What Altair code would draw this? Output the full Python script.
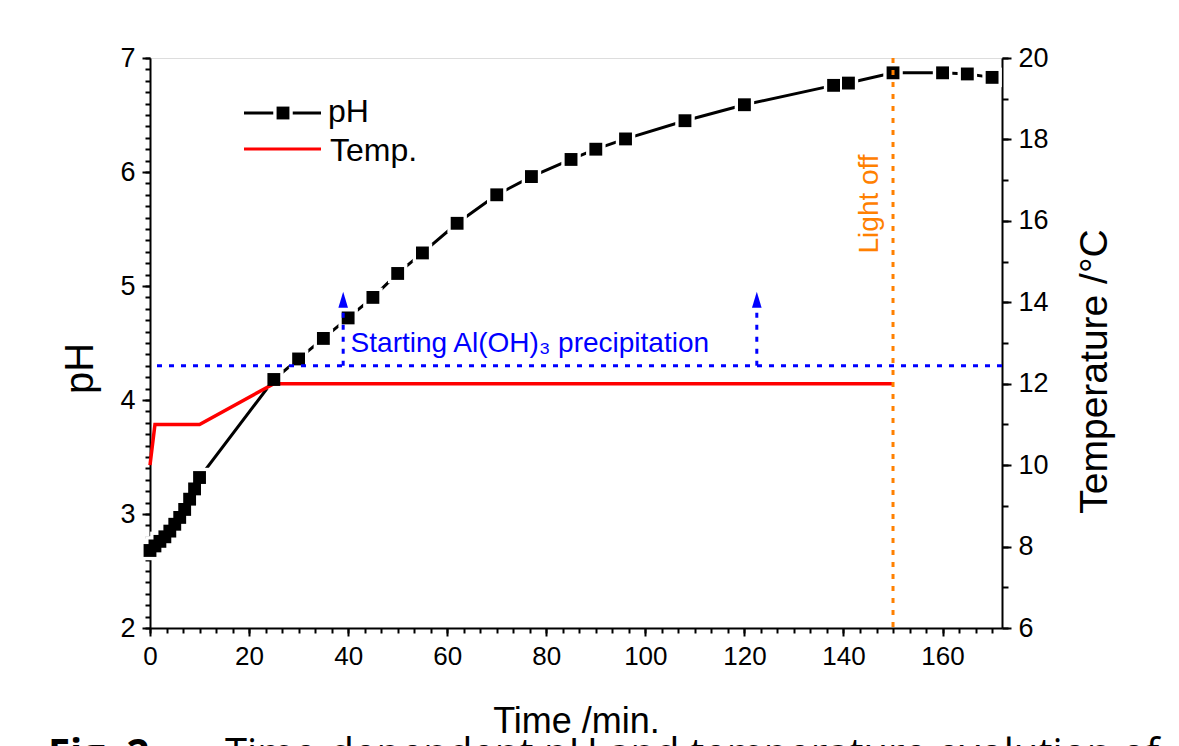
import altair as alt
import pandas as pd

# ---------------- data ----------------
time_ph = [0, 1, 2, 3, 4, 5, 6, 7, 8, 9, 10, 25, 30, 35, 40, 45, 50, 55, 62, 70,
           77, 85, 90, 96, 108, 120, 138, 141, 150, 160, 165, 170]
ph_vals = [2.68, 2.72, 2.76, 2.80, 2.85, 2.91, 2.97, 3.04, 3.13, 3.22, 3.32, 4.18,
           4.36, 4.54, 4.72, 4.90, 5.11, 5.29, 5.55, 5.80, 5.96, 6.11, 6.20, 6.29,
           6.45, 6.59, 6.76, 6.78, 6.87, 6.87, 6.86, 6.83]
time_temp = [0, 1, 10, 25, 150]
temp_vals = [10, 11, 11, 12, 12]

precip_ph = [4.3]
arrow_times = [39, 122.5]
arrow_top = [4.81, 4.81]
arrow_head = [4.88, 4.88]
light_off_time = [150]

x_ticks = [0, 20, 40, 60, 80, 100, 120, 140, 160]
ph_ticks = [2, 3, 4, 5, 6, 7]
temp_ticks = [6, 8, 10, 12, 14, 16, 18, 20]

FONT = "Liberation Sans"

df_ph = pd.DataFrame({"t": time_ph, "ph": ph_vals})
df_temp = pd.DataFrame({"t": time_temp, "temp": temp_vals})
df_hline = pd.DataFrame({"v": precip_ph})
df_arrow = pd.DataFrame({"t": arrow_times, "y0": [precip_ph[0]] * 2, "y1": arrow_top, "yh": arrow_head})
df_light = pd.DataFrame({"t": light_off_time})
one = pd.DataFrame({"a": [0]})

xs = alt.Scale(domain=[0, 172], nice=False, zero=False)
phs = alt.Scale(domain=[2, 7], nice=False, zero=False)
ts = alt.Scale(domain=[6, 20], nice=False, zero=False)

x_minor = [round(i * 20 / 6, 4) for i in range(0, 52)]
ph_minor = [round(2 + i * 0.1, 2) for i in range(0, 51)]
temp_minor = list(range(6, 21))

common = dict(grid=False, domainColor="black", domainWidth=2, tickColor="black",
              labelColor="black", titleColor="black", labelFont=FONT, titleFont=FONT,
              titleFontWeight="normal", labelOverlap=False, labelFlush=False)

x_major_axis = alt.Axis(orient="bottom", values=x_ticks, tickSize=8, tickWidth=2, labelFontSize=26,
                        labelPadding=7, title="Time /min.",
                        titleFontSize=36, titleY=104, titleBaseline="alphabetic", **common)
x_minor_axis = alt.Axis(orient="bottom", values=x_minor, tickSize=5, tickWidth=2, labels=False,
                        domain=False, title=None, grid=False, tickColor="black")

ph_major_axis = alt.Axis(orient="left", values=ph_ticks, tickSize=8, tickWidth=2, labelFontSize=27,
                         labelPadding=7, title="pH", titleFontSize=40, titleX=-70, titleY=310,
                         titleBaseline="middle", titleAngle=270, **common)
ph_minor_axis = alt.Axis(orient="left", values=ph_minor, tickSize=5, tickWidth=2, labels=False,
                         domain=False, title=None, grid=False, tickColor="black")

t_major_axis = alt.Axis(orient="right", values=temp_ticks, tickSize=9, tickWidth=2, labelFontSize=27,
                        labelPadding=7, title="Temperature /°C", titleFontSize=39, titleX=92,
                        titleY=313, titleBaseline="middle", titleAngle=270, **common)
t_minor_axis = alt.Axis(orient="right", values=temp_minor, tickSize=6, tickWidth=2, labels=False,
                        domain=False, title=None, grid=False, tickColor="black")

# ---------------- layers ----------------
ph_line = alt.Chart(df_ph).mark_line(color="black", strokeWidth=3).encode(
    x=alt.X("t:Q", scale=xs, axis=x_major_axis),
    y=alt.Y("ph:Q", scale=phs, axis=ph_major_axis),
)
ph_minor_layer = alt.Chart(df_ph).mark_point(opacity=0).encode(
    x=alt.X("t:Q", scale=xs, axis=x_minor_axis),
    y=alt.Y("ph:Q", scale=phs, axis=ph_minor_axis),
)
ph_halo = alt.Chart(df_ph).mark_square(color="white", size=380, opacity=1).encode(
    x=alt.X("t:Q", scale=xs, axis=None),
    y=alt.Y("ph:Q", scale=phs, axis=None),
)
temp_line = alt.Chart(df_temp).mark_line(color="#FF0000", strokeWidth=3.5).encode(
    x=alt.X("t:Q", scale=xs, axis=None),
    y=alt.Y("temp:Q", scale=ts, axis=t_major_axis),
)
temp_minor_layer = alt.Chart(df_temp).mark_point(opacity=0).encode(
    x=alt.X("t:Q", scale=xs, axis=None),
    y=alt.Y("temp:Q", scale=ts, axis=t_minor_axis),
)
ph_sq = alt.Chart(df_ph).mark_square(color="black", size=165, opacity=1).encode(
    x=alt.X("t:Q", scale=xs, axis=None),
    y=alt.Y("ph:Q", scale=phs, axis=None),
)
hline = alt.Chart(df_hline).mark_rule(color="#0000FF", strokeWidth=3, strokeDash=[5, 7]).encode(
    y=alt.Y("v:Q", scale=phs, axis=None),
)
arrow_stem = alt.Chart(df_arrow).mark_rule(color="#0000FF", strokeWidth=3, strokeDash=[5, 7]).encode(
    x=alt.X("t:Q", scale=xs, axis=None),
    y=alt.Y("y0:Q", scale=phs, axis=None),
    y2="y1:Q",
)
arrow_tip = alt.Chart(df_arrow).mark_point(
    shape="M0,-1L0.6,1L-0.6,1Z", filled=True, size=256, color="#0000FF", opacity=1
).encode(
    x=alt.X("t:Q", scale=xs, axis=None),
    y=alt.Y("yh:Q", scale=phs, axis=None),
)
precip_text = alt.Chart(one).mark_text(
    text="Starting Al(OH)₃ precipitation", color="#0000FF", font=FONT, fontSize=28,
    align="left", baseline="alphabetic"
).encode(
    x=alt.datum(40.5, scale=xs, axis=None),
    y=alt.datum(4.42, scale=phs, axis=None),
)
light_rule = alt.Chart(df_light).mark_rule(color="#FF8000", strokeWidth=3, strokeDash=[5, 7]).encode(
    x=alt.X("t:Q", scale=xs, axis=None),
)
light_text = alt.Chart(one).mark_text(
    text="Light off", color="#FF8000", font=FONT, fontSize=28, angle=270,
    align="center", baseline="middle"
).encode(
    x=alt.datum(145.3, scale=xs, axis=None),
    y=alt.datum(5.72, scale=phs, axis=None),
)

# ---------------- legend (decoration) ----------------
leg_ph_line = alt.Chart(one).mark_rule(color="black", strokeWidth=3).encode(
    x=alt.value(94), x2=alt.value(171), y=alt.value(55))
leg_ph_halo = alt.Chart(one).mark_square(color="white", size=380, opacity=1).encode(
    x=alt.value(133), y=alt.value(55))
leg_ph_sq = alt.Chart(one).mark_square(color="black", size=165, opacity=1).encode(
    x=alt.value(133), y=alt.value(55))
leg_ph_txt = alt.Chart(one).mark_text(text="pH", font=FONT, fontSize=32, color="black",
                                      align="left", baseline="middle").encode(
    x=alt.value(178), y=alt.value(54))
leg_t_line = alt.Chart(one).mark_rule(color="#FF0000", strokeWidth=3).encode(
    x=alt.value(94), x2=alt.value(171), y=alt.value(91))
leg_t_txt = alt.Chart(one).mark_text(text="Temp.", font=FONT, fontSize=32, color="black",
                                     align="left", baseline="middle").encode(
    x=alt.value(180), y=alt.value(93))

caption = alt.Chart(one).mark_text(
    text="Fig. 2", font="Open Sans", fontSize=40, fontWeight="bold", color="black",
    align="left", baseline="alphabetic").encode(x=alt.value(-102), y=alt.value(709))
caption2 = alt.Chart(one).mark_text(
    text="Time-dependent pH and temperature evolution of", font="Open Sans", fontSize=40,
    color="black", align="left", baseline="alphabetic").encode(x=alt.value(75), y=alt.value(709))

chart = alt.layer(
    ph_line, ph_minor_layer, ph_halo, temp_line, temp_minor_layer, ph_sq,
    hline, arrow_stem, arrow_tip, precip_text, light_rule, light_text,
    leg_ph_line, leg_ph_halo, leg_ph_sq, leg_ph_txt, leg_t_line, leg_t_txt,
    caption, caption2,
).resolve_scale(y="independent").resolve_axis(y="independent", x="independent").properties(
    width=852, height=570,
    autosize=alt.AutoSizeParams(type="none"),
    padding={"left": 142, "top": 50, "right": 169, "bottom": 118},
).configure_view(stroke="black", strokeWidth=2).configure(background="white")

chart.save("out.html", embed_options={"renderer": "svg", "actions": False})
